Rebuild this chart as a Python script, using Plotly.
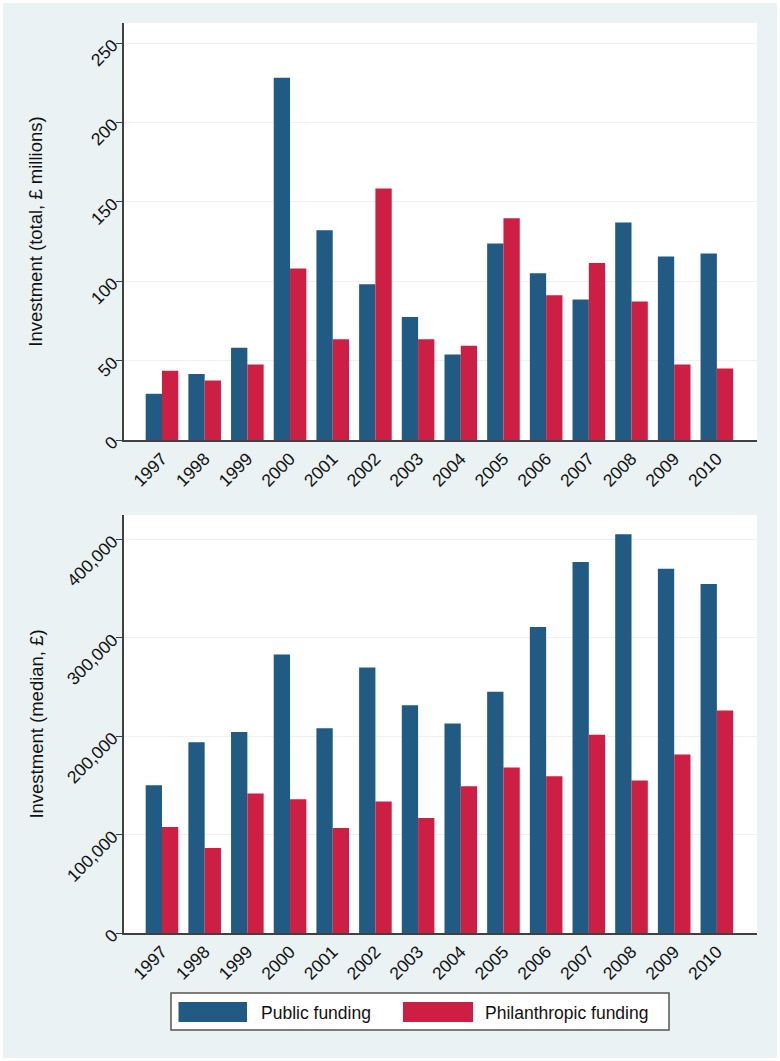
import plotly.graph_objects as go
from plotly.subplots import make_subplots

years = ["1997", "1998", "1999", "2000", "2001", "2002", "2003",
         "2004", "2005", "2006", "2007", "2008", "2009", "2010"]

total_public = [29.1, 41.5, 58.1, 228.2, 132.1, 98.1, 77.4,
                53.9, 123.7, 105.0, 88.5, 136.9, 115.5, 117.4]
total_philanthropic = [43.6, 37.5, 47.6, 108.0, 63.5, 158.3, 63.5,
                       59.3, 139.7, 91.2, 111.4, 87.2, 47.6, 45.1]

median_public = [150200, 193900, 204100, 283000, 208100, 269800, 231500,
                 212900, 245100, 310800, 376900, 405100, 370200, 354600]
median_philanthropic = [107800, 86400, 141700, 135900, 106800, 133600, 116900,
                        149200, 168100, 159300, 201400, 154900, 181400, 226100]

series_names = ["Public funding", "Philanthropic funding"]
top_ticks = [0, 50, 100, 150, 200, 250]
bottom_ticks = [0, 100000, 200000, 300000, 400000]

BLUE = "#215a82"
RED = "#cd1f44"
BG = "#eaf2f3"
FONT = "Liberation Sans, Arial, sans-serif"

W, H = 780, 1061
L, R, T, B = 124, 23, 23, 128
PW, PH = W - L - R, H - T - B

def px_x(x):
    return (x - L) / PW

def px_y(y):
    return (H - B - y) / PH

fig = make_subplots(rows=2, cols=1, vertical_spacing=0.0)

fig.add_trace(go.Bar(x=years, y=total_public, name=series_names[0],
                     marker=dict(color=BLUE, line=dict(width=0)), showlegend=False), row=1, col=1)
fig.add_trace(go.Bar(x=years, y=total_philanthropic, name=series_names[1],
                     marker=dict(color=RED, line=dict(width=0)), showlegend=False), row=1, col=1)
fig.add_trace(go.Bar(x=years, y=median_public, name=series_names[0],
                     marker=dict(color=BLUE, line=dict(width=0)), showlegend=False), row=2, col=1)
fig.add_trace(go.Bar(x=years, y=median_philanthropic, name=series_names[1],
                     marker=dict(color=RED, line=dict(width=0)), showlegend=False), row=2, col=1)

xaxis_common = dict(
    type="category", range=[-0.89, 13.94], showgrid=False,
    showline=True, linecolor="#404040", linewidth=1.5,
    ticks="", tickangle=-45, tickfont=dict(family=FONT, size=17.5, color="#111"),
    zeroline=False, fixedrange=True, automargin=False,
)
yaxis_common = dict(
    showline=True, linecolor="#404040", linewidth=1.5,
    ticks="outside", ticklen=6, tickcolor="#404040", tickwidth=1.2,
    tickangle=-45, tickfont=dict(family=FONT, size=17.5, color="#111"),
    showgrid=True, gridcolor=BG, gridwidth=1.2, zeroline=False, automargin=False,
    title_font=dict(family=FONT, size=18.5, color="#111"),
)

fig.update_layout(
    width=W, height=H,
    margin=dict(l=L, r=R, t=T, b=B),
    paper_bgcolor=BG, plot_bgcolor="white",
    barmode="group", bargap=0.236, bargroupgap=0,
    font=dict(family=FONT, color="#111"),
    xaxis=dict(xaxis_common, domain=[0, 1], anchor="y"),
    xaxis2=dict(xaxis_common, domain=[0, 1], anchor="y2"),
    yaxis=dict(yaxis_common, domain=[px_y(440), 1.0], range=[0, 262.6],
               tickvals=top_ticks, ticktext=[str(v) for v in top_ticks],
               title=dict(text="Investment (total, £ millions)", standoff=39)),
    yaxis2=dict(yaxis_common, domain=[0, px_y(515)], range=[0, 424700],
                tickvals=bottom_ticks, ticktext=[f"{v:,}" for v in bottom_ticks],
                title=dict(text="Investment (median, £)", standoff=14)),
    showlegend=False,
)

shapes = []
# thin white frame around the whole figure
shapes.append(dict(type="rect", xref="paper", yref="paper",
                   x0=px_x(0), x1=px_x(W), y0=px_y(H), y1=px_y(0),
                   line=dict(color="white", width=6), fillcolor="rgba(0,0,0,0)", layer="above"))
# legend box
shapes.append(dict(type="rect", xref="paper", yref="paper",
                   x0=px_x(171), x1=px_x(669), y0=px_y(1030), y1=px_y(993),
                   line=dict(color="#555", width=1.5), fillcolor="white", layer="above"))
shapes.append(dict(type="rect", xref="paper", yref="paper",
                   x0=px_x(178.5), x1=px_x(247), y0=px_y(1022), y1=px_y(1002),
                   line=dict(width=0), fillcolor=BLUE, layer="above"))
shapes.append(dict(type="rect", xref="paper", yref="paper",
                   x0=px_x(403), x1=px_x(473), y0=px_y(1022), y1=px_y(1002),
                   line=dict(width=0), fillcolor=RED, layer="above"))
fig.update_layout(shapes=shapes)

annotations = [
    dict(text=series_names[0], xref="paper", yref="paper", x=px_x(259), y=px_y(1013),
         xanchor="left", yanchor="middle", showarrow=False,
         font=dict(family=FONT, size=17.5, color="#111")),
    dict(text=series_names[1], xref="paper", yref="paper", x=px_x(483), y=px_y(1013),
         xanchor="left", yanchor="middle", showarrow=False,
         font=dict(family=FONT, size=17.5, color="#111")),
]
fig.update_layout(annotations=annotations)

fig.write_html("out.html", config={"displayModeBar": False},
               post_script="document.body.style.margin='0';")
